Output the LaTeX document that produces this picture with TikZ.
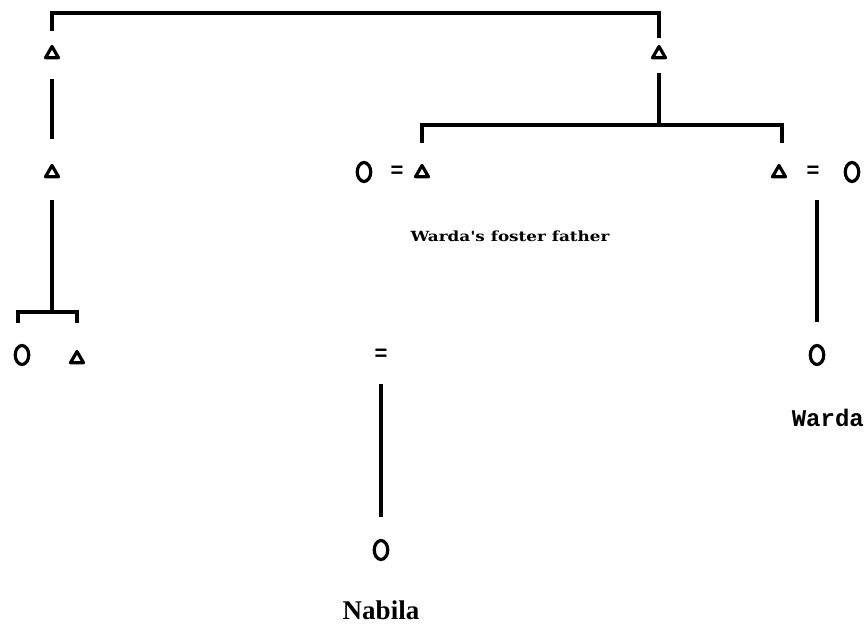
\documentclass[tikz,border=0pt]{standalone}
\usepackage{fontspec}
\setmainfont{Liberation Serif}
\newfontfamily\monof{Liberation Mono}
\newfontfamily\sansf{Liberation Sans}
\newfontfamily\labf{DejaVu Serif}
\usetikzlibrary{shapes.geometric,calc}
\tikzset{
  male/.style={regular polygon, regular polygon sides=3, draw, line width=3.2pt, line join=round, minimum size=15pt, inner sep=0pt},
  female/.style={ellipse, draw, line width=3.2pt, minimum width=13.5pt, minimum height=19pt, inner sep=0pt},
  eqsign/.style={font=\sansf\bfseries\fontsize{22}{22}\selectfont, inner sep=0pt},
  kin/.style={line width=3.2pt}
}
\begin{document}
\begin{tikzpicture}[x=1pt,y=-1pt]
\useasboundingbox (0,0) rectangle (864,629);
\coordinate (top) at (0,13);
\node[male] (tA) at (52,54) {};
\node[male] (tB) at (659,54) {};
\node[male] (tC) at (52,173) {};
\node[female] (cD) at (364,172) {};
\node[eqsign] (eqD) at (397,172) {=};
\node[male] (tE) at (422,173) {};
\node[male] (tF) at (779,173) {};
\node[eqsign] (eqF) at (813,172) {=};
\node[female] (cG) at (852,172) {};
\node[font=\labf\bfseries\fontsize{14}{14}\selectfont, xscale=1.2] (foster) at (510,236) {Warda's foster father};
\node[female] (cH) at (22,355) {};
\node[male] (tI) at (77,359) {};
\node[eqsign] (eqJ) at (381,355) {=};
\node[female] (cK) at (381,550) {};
\node[font=\bfseries\fontsize{27}{27}\selectfont] (nabila) at (381,610) {Nabila};
\node[female] (cL) at (817,355) {};
\node[font=\monof\bfseries\fontsize{24}{24}\selectfont, anchor=east, inner sep=0pt] (warda) at (864,418) {Warda};
% top bracket
\draw[kin] ($(tA)+(0,-23)$) -- (tA |- top) -- (tB |- top) -- ($(tB)+(0,-16)$);
% left trunk
\draw[kin] ($(tA)+(0,25)$) -- ($(tC)+(0,-34)$);
% right sibling bar
\coordinate (bar) at (0,125);
\draw[kin] ($(tB)+(0,19)$) -- (tB |- bar);
\draw[kin] ($(tE)+(0,-30)$) -- (tE |- bar) -- ($(tF |- bar)+(3,0)$) -- ($(tF)+(3,-30)$);
% left children
\coordinate (lbar) at (0,312);
\draw[kin] ($(tC)+(0,27)$) -- (tC |- lbar);
\draw[kin] ($(cH)+(-4,-32)$) -- ($(cH |- lbar)+(-4,0)$) -- (tI |- lbar) -- ($(tI)+(0,-36)$);
% Warda line
\draw[kin] ($(cL)+(0,-155)$) -- ($(cL)+(0,-33)$);
% Nabila line
\draw[kin] ($(eqJ)+(0,29)$) -- ($(cK)+(0,-33)$);
\end{tikzpicture}
\end{document}
